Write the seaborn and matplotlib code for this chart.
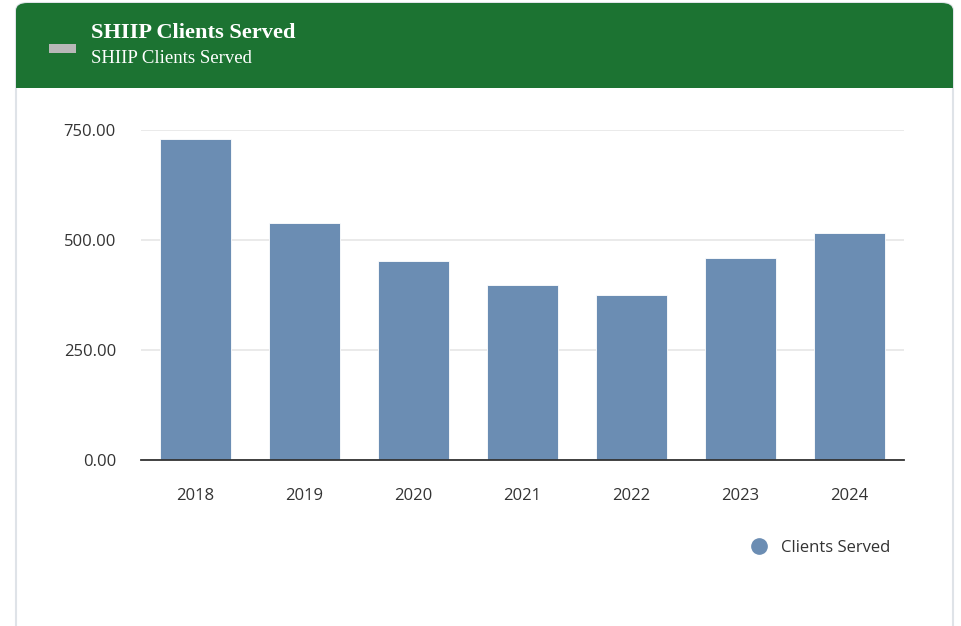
import matplotlib
matplotlib.use("Agg")
import matplotlib.pyplot as plt
import seaborn as sns
import pandas as pd
from matplotlib.patches import FancyBboxPatch, Rectangle
from matplotlib.lines import Line2D

years = ["2018", "2019", "2020", "2021", "2022", "2023", "2024"]
clients_served = [729, 539, 452, 398, 376, 459, 517]
y_ticks = [0, 250, 500, 750]
y_tick_labels = ["0.00", "250.00", "500.00", "750.00"]
title = "SHIIP Clients Served"
subtitle = "SHIIP Clients Served"
series_name = "Clients Served"

df = pd.DataFrame({"year": years, "value": clients_served})

sns.set_theme(style="white")
plt.rcParams["font.family"] = ["Open Sans", "DejaVu Sans"]

W, H = 962, 626
fig = plt.figure(figsize=(W / 100, H / 100), dpi=100)
fig.patch.set_facecolor("white")

# card
card = FancyBboxPatch((16 / W, -20 / H), (953 - 16) / W, (626 - 3 + 20) / H,
                      boxstyle="round,pad=0,rounding_size=0.012",
                      transform=fig.transFigure, facecolor="white",
                      edgecolor="#dfe3e8", linewidth=1.5, zorder=-3)
fig.patches.append(card)
header = FancyBboxPatch((16 / W, (626 - 88) / H), (953 - 16) / W, (88 - 3) / H,
                        boxstyle="round,pad=0,rounding_size=0.012",
                        transform=fig.transFigure, facecolor="#1c7332",
                        edgecolor="none", zorder=-2)
fig.patches.append(header)
fig.patches.append(Rectangle((16 / W, (626 - 88) / H), (953 - 16) / W, 20 / H,
                             transform=fig.transFigure, facecolor="#1c7332",
                             edgecolor="none", zorder=-2))
fig.patches.append(Rectangle((49 / W, (626 - 53) / H), 27 / W, 9 / H,
                             transform=fig.transFigure, facecolor="#b8b8b8",
                             edgecolor="none", zorder=-1))
fig.text(91 / W, 1 - 33 / H, title, color="white", fontsize=16.1, fontweight="bold",
         family=["Liberation Serif", "DejaVu Serif"], va="center", ha="left")
fig.text(91 / W, 1 - 58.5 / H, subtitle, color="white", fontsize=13.5,
         family=["Liberation Serif", "DejaVu Serif"], va="center", ha="left")

ax = fig.add_axes([141 / W, (626 - 460) / H, (904 - 141) / W, 330 / H])
ax.set_zorder(2)
ax.patch.set_alpha(0)
sns.barplot(data=df, x="year", y="value", color="#6b8db3", saturation=1,
            width=0.66, ax=ax, zorder=3, edgecolor="white", linewidth=0.6)
ax.set_ylim(0, 750)
ax.set_yticks(y_ticks)
ax.set_yticklabels(y_tick_labels)
ax.set_xlabel("")
ax.set_ylabel("")
ax.yaxis.grid(True, color="#e6e6e6", linewidth=1.2, zorder=0)
ax.set_axisbelow(True)
for s in ["top", "right", "left"]:
    ax.spines[s].set_visible(False)
ax.spines["bottom"].set_color("#333333")
ax.spines["bottom"].set_linewidth(1.3)
ax.spines["bottom"].set_zorder(5)
ax.tick_params(axis="both", length=0, labelsize=12, labelcolor="#333333")
ax.tick_params(axis="x", pad=20.5)
ax.tick_params(axis="y", pad=18)
for lab in ax.get_yticklabels():
    lab.set_horizontalalignment("right")

handle = Line2D([], [], marker="o", linestyle="none", markersize=11,
                markerfacecolor="#6b8db3", markeredgecolor="#6b8db3")
leg = fig.legend([handle], [series_name], loc="center left",
                 bbox_to_anchor=(742 / W, 1 - 548 / H), frameon=False,
                 fontsize=12, labelcolor="#333333", handletextpad=0.35,
                 borderaxespad=0, borderpad=0)
leg.set_zorder(3)

fig.savefig("out.png", dpi=100, facecolor="white")
